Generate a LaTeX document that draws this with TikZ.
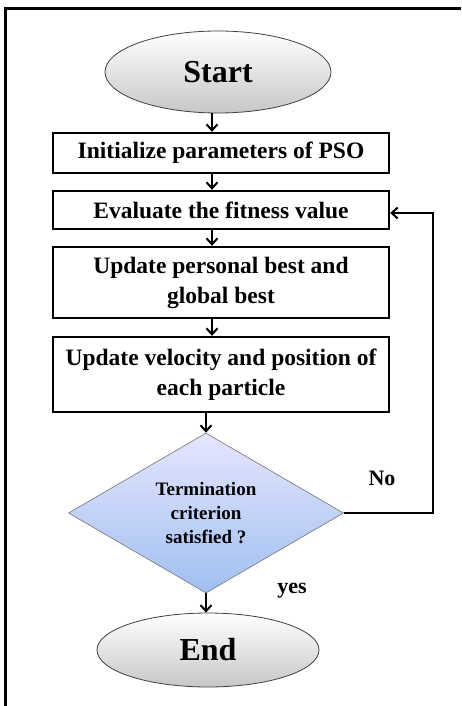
\documentclass[tikz,border=0pt]{standalone}
\usepackage{fontspec}
\setmainfont{Liberation Serif}
\usetikzlibrary{shapes.geometric,arrows.meta}
\begin{document}
\begin{tikzpicture}[x=1pt,y=-1pt,
  terminal/.style={ellipse,draw=black!75,line width=0.8pt,
    top color=white,bottom color=black!22,
    minimum width=226pt,minimum height=82pt,inner sep=0pt,
    font=\fontsize{32}{36}\selectfont\bfseries},
  stepbox/.style={rectangle,draw=black,line width=2.4pt,fill=white,
    minimum width=336pt,inner sep=0pt,align=center,
    font=\fontsize{23.5}{30}\selectfont\bfseries},
  decision/.style={diamond,draw=black!55,line width=0.6pt,
    top color=blue!10!white,bottom color={rgb,255:red,160;green,192;blue,240},
    minimum width=275pt,minimum height=160pt,aspect=1.72,inner sep=0pt,
    align=center,font=\fontsize{19}{24}\selectfont\bfseries},
  flow/.style={line width=2pt,-{Straight Barb[length=6pt,width=11pt,line width=2pt]}},
  lbl/.style={font=\fontsize{22}{24}\selectfont\bfseries,inner sep=0pt}]
  \useasboundingbox (0,0) rectangle (461,706);
  \fill[white] (0,0) rectangle (461,706);
  % outer frame (only top and left edges fall inside the page)
  \draw[line width=3pt] (5,706) -- (5,9) -- (461,9);

  \node[terminal] (start) at (218,72) {Start};
  \node[stepbox,minimum height=40pt] (init) at (221,153) {Initialize parameters of PSO};
  \node[stepbox,minimum height=38pt] (eval) at (221,210) {Evaluate the fitness value};
  \node[stepbox,minimum height=71pt] (best) at (221,282.5) {Update personal best and\\global best};
  \node[stepbox,minimum height=75pt] (move) at (221,374.5) {Update velocity and position of\\each particle};
  \node[decision] (term) at (206,513) {Termination\\criterion\\satisfied ?};
  \node[terminal,minimum width=222pt,minimum height=74pt] (stop) at (208,650) {End};

  \node[lbl] (no) at (382,478) {No};
  \node[lbl] (yes) at (292,591) {yes};

  \draw[flow] (start.south -| 212,0) -- (init.north -| 212,0);
  \draw[flow] (init.south -| 212,0) -- (eval.north -| 212,0);
  \draw[flow] (eval.south -| 212,0) -- (best.north -| 212,0);
  \draw[flow] (best.south -| 212,0) -- (move.north -| 212,0);
  \draw[flow] (move.south -| 206,0) -- (term.north);
  \draw[flow] (term.south) -- (stop.north -| 206,0);
  \coordinate (loop) at (433,513);
  \draw[flow] (term.east) -- (loop) |- ([yshift=-3pt]eval.east);
\end{tikzpicture}
\end{document}
